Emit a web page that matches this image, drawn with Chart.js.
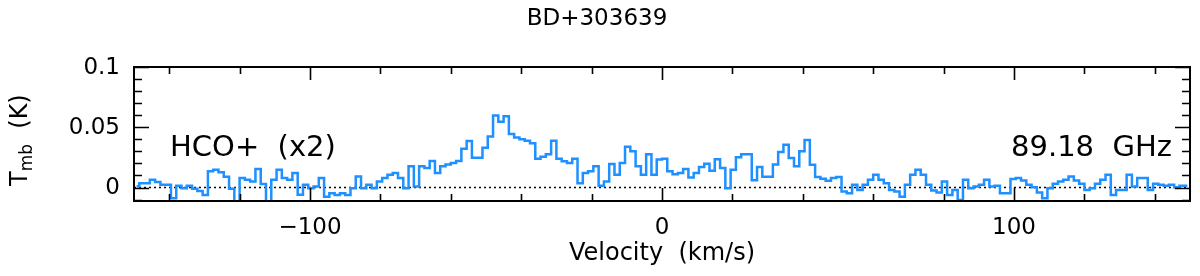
<!DOCTYPE html>
<html>
<head>
<meta charset="utf-8">
<script src="https://cdn.jsdelivr.net/npm/chart.js@4/dist/chart.umd.min.js"></script>
<style>
  html, body { margin: 0; padding: 0; background: #fff; }
  #wrap { width: 1200px; height: 276px; }
</style>
</head>
<body>
<div id="wrap"><canvas id="spec" width="1200" height="276"></canvas></div>
<script>
  // ── Data ──
  const TITLE = "BD+303639";
  const LINE_LABEL = "HCO+  (x2)";
  const FREQ_LABEL = "89.18  GHz";

  const CHANNEL_START = -149.25;   // km/s, centre of first channel
  const CHANNEL_WIDTH = 1.5;       // km/s

  // Tmb (K), one value per channel
  const tmb = [
    0.001, 0.0036, 0.0036, 0.0064, 0.0045, 0.0022, 0.0022, -0.009, 0.0014, -0.0006,
    0.0014, -0.0011, -0.0028, -0.0062, 0.0134, 0.0148, 0.0126, 0.009, -0.001, -0.012,
    0.0078, 0.0064, 0.005, 0.0154, 0.003, -0.012, 0.0064, 0.0148, 0.0078, 0.0064,
    0.012, -0.006, 0.0022, -0.0006, 0.0008, 0.0078, -0.0076, -0.0048, -0.0062, -0.0048,
    -0.0062, -0.0006, 0.0092, -0.0006, 0.0022, -0.0006, 0.005, 0.0078, 0.0106, 0.012,
    0.0078, -0.0006, 0.0176, 0.0008, 0.0176, 0.0162, 0.022, 0.012, 0.0176, 0.019,
    0.0204, 0.022, 0.0322, 0.0386, 0.0246, 0.0246, 0.033, 0.0423, 0.0597, 0.0546,
    0.0591, 0.0443, 0.0415, 0.040, 0.0387, 0.0367, 0.0238, 0.0255, 0.0275, 0.0387,
    0.0238, 0.0218, 0.0204, 0.0238, 0.0036, 0.012, 0.0134, 0.0176, 0.0014, 0.005,
    0.0196, 0.0106, 0.0204, 0.0339, 0.030, 0.0176, 0.0106, 0.0275, 0.0106, 0.0232,
    0.0238, 0.0134, 0.011, 0.012, 0.0154, 0.0084, 0.012, 0.017, 0.0197, 0.014,
    0.0235, 0.0162, -0.0006, 0.0148, 0.0252, 0.0275, 0.0275, 0.006, 0.0171, 0.009,
    0.009, 0.019, 0.0294, 0.0355, 0.0245, 0.0176, 0.030, 0.0395, 0.0188, 0.0087,
    0.0073, 0.0056, 0.0078, 0.0087, -0.0034, -0.0048, 0.0022, -0.002, 0.0022, 0.0064,
    0.0106, 0.0064, 0.0036, -0.002, -0.0034, -0.0076, 0.0022, 0.0106, 0.0148, 0.0106,
    0.0022, -0.0025, -0.0042, 0.005, -0.0062, -0.002, -0.0104, 0.0064, -0.0006, 0.0008,
    0.0022, 0.0064, 0.0008, 0.0014, -0.0048, -0.0048, 0.007, 0.0078, 0.0059, 0.0022,
    0.0003, -0.0042, -0.009, -0.0006, 0.0031, 0.005, 0.0064, 0.0092, 0.0059, 0.0031,
    -0.002, -0.0006, 0.0031, 0.0064, 0.0106, -0.0062, -0.002, -0.002, 0.0106, 0.0008,
    0.0078, 0.0078, -0.002, 0.0031, 0.0022, 0.0014, 0.0022, 0.0003, 0.0014, 0.0014
  ];

  const xRange = [-150, 150];
  const yRange = [-0.0112, 0.1];
  const xMajorTicks = [-100, 0, 100];
  const xMinorTicks = [-140, -120, -80, -60, -40, -20, 20, 40, 60, 80, 120, 140];
  const yMajorTicks = [0, 0.05, 0.1];
  const yMinorTicks = [-0.01, 0.01, 0.02, 0.03, 0.04, 0.06, 0.07, 0.08, 0.09];
  const xTickLabels = ["\u2212100", "0", "100"];
  const yTickLabels = ["0", "0.05", "0.1"];

  const FONT = '"DejaVu Sans", sans-serif';

  const points = tmb.map(function (t, i) {
    return { x: CHANNEL_START + i * CHANNEL_WIDTH, y: t };
  });

  // ── Frame, ticks, labels ──
  const framePlugin = {
    id: "frame",
    afterDraw: function (chart) {
      const ctx = chart.ctx;
      const a = chart.chartArea;
      const xs = chart.scales.x;
      const ys = chart.scales.y;

      ctx.save();
      ctx.strokeStyle = "#000";
      ctx.lineWidth = 2;
      ctx.strokeRect(a.left, a.top, a.right - a.left, a.bottom - a.top);

      ctx.lineWidth = 1.6;
      ctx.beginPath();
      xMinorTicks.concat(xMajorTicks).forEach(function (v) {
        const len = xMajorTicks.indexOf(v) >= 0 ? 13 : 7;
        const px = Math.round(xs.getPixelForValue(v)) + 0.5;
        ctx.moveTo(px, a.top); ctx.lineTo(px, a.top + len);
        ctx.moveTo(px, a.bottom); ctx.lineTo(px, a.bottom - len);
      });
      yMinorTicks.concat(yMajorTicks).forEach(function (v) {
        const len = yMajorTicks.indexOf(v) >= 0 ? 15 : 8;
        const py = Math.round(ys.getPixelForValue(v)) + 0.5;
        ctx.moveTo(a.left, py); ctx.lineTo(a.left + len, py);
        ctx.moveTo(a.right, py); ctx.lineTo(a.right - len, py);
      });
      ctx.stroke();

      ctx.fillStyle = "#000";
      ctx.font = "23px " + FONT;
      ctx.textAlign = "center";
      ctx.textBaseline = "middle";
      xMajorTicks.forEach(function (v, i) {
        ctx.fillText(xTickLabels[i], xs.getPixelForValue(v), 228);
      });
      ctx.textAlign = "right";
      yMajorTicks.forEach(function (v, i) {
        ctx.fillText(yTickLabels[i], 120, ys.getPixelForValue(v) + 1);
      });

      // axis titles
      ctx.font = "24px " + FONT;
      ctx.textAlign = "center";
      ctx.fillText("Velocity  (km/s)", (a.left + a.right) / 2, 254);

      ctx.save();
      ctx.translate(27, 186);
      ctx.rotate(-Math.PI / 2);
      ctx.textAlign = "left";
      ctx.textBaseline = "alphabetic";
      ctx.font = "24px " + FONT;
      ctx.fillText("T", 0, 0);
      let w = ctx.measureText("T").width;
      ctx.font = "17px " + FONT;
      ctx.fillText("mb", w, 5);
      w += ctx.measureText("mb").width;
      ctx.font = "24px " + FONT;
      ctx.fillText("  (K)", w, 0);
      ctx.restore();

      // title and annotations
      ctx.textAlign = "center";
      ctx.textBaseline = "alphabetic";
      ctx.font = "23px " + FONT;
      ctx.fillText(TITLE, 597, 25);

      ctx.textAlign = "left";
      ctx.font = "29px " + FONT;
      ctx.fillText(LINE_LABEL, 170, 156);
      ctx.textAlign = "right";
      ctx.fillText(FREQ_LABEL, 1172, 156);
      ctx.restore();
    }
  };

  new Chart(document.getElementById("spec"), {
    type: "line",
    data: {
      datasets: [
        {
          data: points,
          stepped: "middle",
          borderColor: "#1e90ff",
          borderWidth: 2.5,
          pointRadius: 0,
          fill: false,
          order: 1
        },
        {
          data: [{ x: xRange[0], y: 0 }, { x: xRange[1], y: 0 }],
          borderColor: "#000",
          borderWidth: 1.6,
          borderDash: [2, 3],
          pointRadius: 0,
          fill: false,
          order: 2
        }
      ]
    },
    options: {
      responsive: false,
      animation: false,
      devicePixelRatio: 1,
      layout: { padding: { left: 134, top: 67, right: 10, bottom: 75 } },
      plugins: { legend: { display: false }, tooltip: { enabled: false } },
      scales: {
        x: { type: "linear", min: xRange[0], max: xRange[1], display: false },
        y: { type: "linear", min: yRange[0], max: yRange[1], display: false }
      }
    },
    plugins: [framePlugin]
  });
</script>
</body>
</html>
